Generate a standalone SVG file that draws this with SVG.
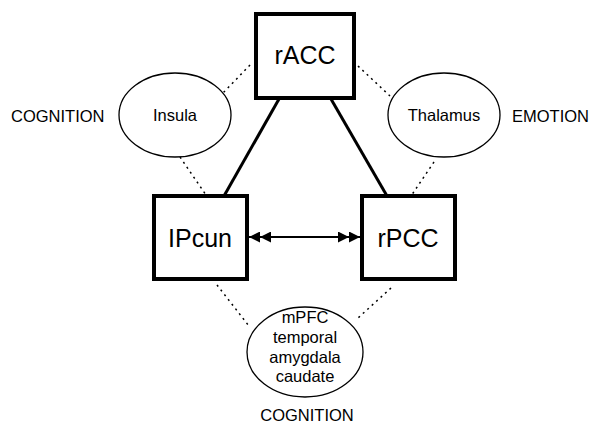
<svg xmlns="http://www.w3.org/2000/svg" width="592" height="427" viewBox="0 0 592 427">
<style>
.box{fill:#fff;stroke:#000;stroke-width:4}
.ell{fill:#fff;stroke:#000;stroke-width:1.3}
.solid{stroke:#000;stroke-width:3;fill:none}
.dot{stroke:#000;stroke-width:1.5;stroke-dasharray:2 4;fill:none}
.big{font-family:"Liberation Sans",Arial,sans-serif;font-size:25px;text-anchor:middle}
.sm{font-family:"Liberation Sans",Arial,sans-serif;font-size:16.5px;text-anchor:middle}
.lab{font-family:"Liberation Sans",Arial,sans-serif;font-size:16.5px}
</style>
<defs>
<marker id="dh" viewBox="0 0 22 11" refX="22" refY="5.5" markerWidth="22" markerHeight="11" markerUnits="userSpaceOnUse" orient="auto-start-reverse">
<path d="M0,0 L11,5.5 L0,11 Z M11,0 L22,5.5 L11,11 Z" fill="#000"/>
</marker>
</defs>
<g id="connectors">
<line class="solid" x1="279" y1="99" x2="224" y2="196"/>
<line class="solid" x1="331" y1="99" x2="387" y2="196"/>
<line x1="249" y1="237" x2="360" y2="237" stroke="#000" stroke-width="1.8" marker-start="url(#dh)" marker-end="url(#dh)"/>
<line class="dot" x1="250" y1="65" x2="223" y2="93"/>
<line class="dot" x1="180" y1="157" x2="206" y2="195"/>
<line class="dot" x1="358" y1="66" x2="390" y2="96"/>
<line class="dot" x1="434" y1="162" x2="411" y2="196"/>
<line class="dot" x1="217" y1="285" x2="249" y2="326"/>
<line class="dot" x1="391" y1="288" x2="358" y2="318"/>
</g>
<g id="rACC"><rect class="box" x="256" y="14" width="98" height="84"/><text class="big" x="305" y="64">rACC</text></g>
<g id="IPcun"><rect class="box" x="154" y="196" width="93" height="83"/><text class="big" x="200" y="247">IPcun</text></g>
<g id="rPCC"><rect class="box" x="362" y="196" width="93" height="83"/><text class="big" x="408" y="247">rPCC</text></g>
<g id="Insula"><ellipse class="ell" cx="175" cy="115" rx="56" ry="42"/><text class="sm" x="175" y="121">Insula</text></g>
<g id="Thalamus"><ellipse class="ell" cx="444" cy="115" rx="56" ry="42"/><text class="sm" x="444" y="121">Thalamus</text></g>
<g id="mPFC"><ellipse class="ell" cx="305" cy="352" rx="58" ry="45"/>
<text class="sm" x="305" y="323">mPFC</text>
<text class="sm" x="305" y="343">temporal</text>
<text class="sm" x="305" y="363">amygdala</text>
<text class="sm" x="305" y="382">caudate</text></g>
<g id="labels">
<text class="lab" x="11" y="122">COGNITION</text>
<text class="lab" x="512" y="122">EMOTION</text>
<text class="sm" x="307" y="421">COGNITION</text>
</g>
</svg>
